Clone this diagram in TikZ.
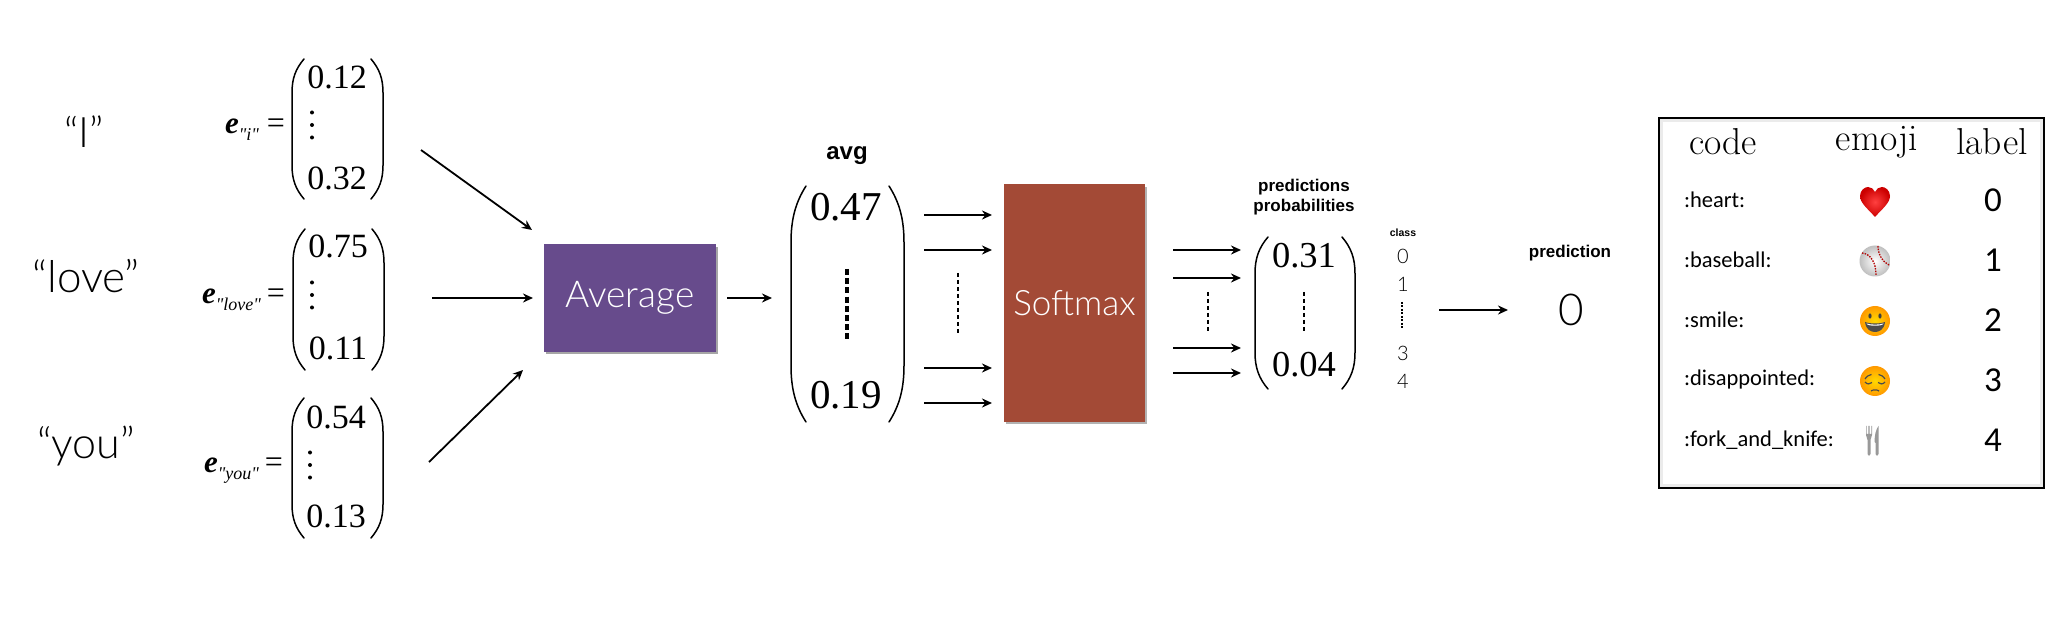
\documentclass[tikz,border=0pt]{standalone}
\usepackage{fontspec}
\setmainfont{Liberation Serif}
\newfontfamily\subf{Liberation Serif}
\newfontfamily\lightf{Lato}[UprightFont=* Light]
\newfontfamily\boldf{Liberation Sans}[UprightFont=* Bold]
\newfontfamily\carl{Carlito}
\newfontfamily\lmr{Latin Modern Roman}
\usetikzlibrary{arrows.meta,calc}
\definecolor{avgcol}{HTML}{674B8C}
\definecolor{softcol}{HTML}{A34A36}
\tikzset{
 x=1pt,y=-1pt,
 every node/.style={inner sep=0pt,outer sep=0pt},
 light/.style={font=\lightf\fontsize{#1}{#1}\selectfont},
 boldlab/.style={font=\boldf\fontsize{#1}{#1}\selectfont,align=center},
 num/.style={font=\fontsize{#1}{#1}\selectfont},
 codetxt/.style={font=\carl\fontsize{22.5}{23}\selectfont,anchor=west},
 lblnum/.style={font=\carl\fontsize{35}{35}\selectfont},
 headtxt/.style={font=\lmr\fontsize{37.5}{37.5}\selectfont},
 arr/.style={-{Stealth[length=10pt,width=9pt]},line width=1.8pt,black},
 paren/.style={line width=1.5pt,black,line cap=round},
}
\newcommand{\parenpair}[5]{%
 \pgfmathsetmacro{\pH}{#4-#3}%
 \draw[paren] (#1+#5,#3) .. controls (#1+0.3*#5,#3+0.07*\pH) and (#1,#3+0.14*\pH) .. (#1,#3+0.24*\pH) -- (#1,#4-0.24*\pH) .. controls (#1,#4-0.14*\pH) and (#1+0.3*#5,#4-0.07*\pH) .. (#1+#5,#4);
 \draw[paren] (#2-#5,#3) .. controls (#2-0.3*#5,#3+0.07*\pH) and (#2,#3+0.14*\pH) .. (#2,#3+0.24*\pH) -- (#2,#4-0.24*\pH) .. controls (#2,#4-0.14*\pH) and (#2-0.3*#5,#4-0.07*\pH) .. (#2-#5,#4);
}
\newcommand{\threedots}[2]{\foreach \dy in {-12.5,0,12.5}{\fill (#1,#2+\dy) circle (2pt);}}
\newcommand{\emb}[2]{{\fontsize{31}{31}\selectfont\bfseries\itshape e}\raisebox{-7pt}{\subf\fontsize{18}{18}\selectfont\itshape #1}\hspace{#2}{\fontsize{32}{32}\selectfont =}}
\begin{document}
\begin{tikzpicture}
\useasboundingbox (0,0) rectangle (2062,617);
\fill[white] (0,0) rectangle (2062,617);
% words
\node[light=42] (w1) at (84,132) {“I”};
\node[light=44] (w2) at (86,276) {“love”};
\node[light=43] (w3) at (86,446) {“you”};
% embeddings
\node[anchor=east] (e1) at (285,130) {\emb{"i"}{8pt}};
\node[anchor=east] (e2) at (285,300) {\emb{"love"}{6pt}};
\node[anchor=east] (e3) at (283,471) {\emb{"you"}{6pt}};
% matrices
\parenpair{292}{383}{59}{199}{12}
\node[num=34] (m1a) at (337,77) {0.12};
\node[num=34] (m1b) at (337,178) {0.32};
\threedots{312}{125}
\parenpair{293}{384}{229}{370}{12}
\node[num=34] (m2a) at (338,246) {0.75};
\node[num=34] (m2b) at (338,348) {0.11};
\threedots{312}{295}
\parenpair{292}{383}{398}{538}{12}
\node[num=34] (m3a) at (336,417) {0.54};
\node[num=34] (m3b) at (336,516) {0.13};
\threedots{310}{465}
% average
\fill[black!35] (546,247) rectangle (718,354);
\node[fill=avgcol,minimum width=172pt,minimum height=108pt,text=white,light=37] (avg) at (630,298) {Average};
\coordinate (a1s) at (421,150); \coordinate (a1e) at (532,230);
\coordinate (a2s) at (432,298); \coordinate (a2e) at (533,298);
\coordinate (a3s) at (429,462); \coordinate (a3e) at (523,370);
\draw[arr] (a1s) -- (a1e);
\draw[arr] (a2s) -- (a2e);
\draw[arr] (a3s) -- (a3e);
\coordinate (a4s) at (727,298); \coordinate (a4e) at (772,298);
\draw[arr] (a4s) -- (a4e);
% avg vector
\node[boldlab=24] (avglab) at (847,156) {avg};
\parenpair{791}{904}{186}{422}{15}
\node[num=41] (v1) at (846,207) {0.47};
\node[num=41] (v2) at (846,395) {0.19};
\coordinate (vd1) at (847,269); \coordinate (vd2) at (847,339);
\draw[line width=4pt,dash pattern=on 6pt off 3.2pt] (vd1) -- (vd2);
% softmax in
\foreach \i/\yy in {1/215,2/250,3/368,4/403}{
 \coordinate (si\i) at (924,\yy); \coordinate (se\i) at (992,\yy);
 \draw[arr] (si\i) -- (se\i);
}
\coordinate (d1a) at (958,273); \coordinate (d1b) at (958,333);
\draw[line width=2pt,dash pattern=on 4pt off 3pt] (d1a) -- (d1b);
% softmax
\fill[black!30] (1006,187) rectangle (1147,424);
\node[fill=softcol,minimum width=141pt,minimum height=238pt,text=white,light=35] (soft) at (1074.5,303) {Softmax};
% softmax out
\foreach \i/\yy in {1/250,2/278,3/348,4/373}{
 \coordinate (so\i) at (1173,\yy); \coordinate (sp\i) at (1241,\yy);
 \draw[arr] (so\i) -- (sp\i);
}
\coordinate (d2a) at (1208,292); \coordinate (d2b) at (1208,332);
\draw[line width=2pt,dash pattern=on 4pt off 3pt] (d2a) -- (d2b);
% probabilities
\node[boldlab=17] (pp) at (1304,197) {predictions\\[3pt]probabilities};
\parenpair{1255}{1355}{237}{389}{13}
\node[num=36.5] (p1) at (1304,256) {0.31};
\node[num=36.5] (p2) at (1304,365) {0.04};
\coordinate (d3a) at (1304,292); \coordinate (d3b) at (1304,333);
\draw[line width=2.4pt,dash pattern=on 4pt off 3pt] (d3a) -- (d3b);
% class
\node[boldlab=10.5] (cl) at (1403,233) {class};
\node[light=20] (c0) at (1403,256) {0};
\node[light=20] (c1) at (1403,284) {1};
\node[light=20] (c3) at (1403,353) {3};
\node[light=20] (c4) at (1403,381) {4};
\coordinate (d4a) at (1402,302); \coordinate (d4b) at (1402,330);
\draw[line width=1.4pt,dash pattern=on 2pt off 1.5pt] (d4a) -- (d4b);
\coordinate (p3s) at (1439,310); \coordinate (p3e) at (1508,310);
\draw[arr] (p3s) -- (p3e);
\node[boldlab=17] (predlab) at (1570,253) {prediction};
\node[light=44] (pred) at (1571,310) {0};
% table
\draw[black!8,line width=3pt] (1661.5,120.5) rectangle (2041.5,485.5);
\draw[black,line width=2.4pt] (1659,118) rectangle (2044,488);
\node[headtxt] (h1) at (1723,142) {code};
\node[headtxt] (h2) at (1877,142) {emoji};
\node[headtxt] (h3) at (1992,142) {label};
\node[codetxt] (r1) at (1684,200) {:heart:};
\node[codetxt] (r2) at (1684,260) {:baseball:};
\node[codetxt] (r3) at (1684,320) {:smile:};
\node[codetxt] (r4) at (1684,380) {:disappointed:};
\node[codetxt] (r5) at (1684,440) {:fork\_and\_knife:};
\node[lblnum] (l0) at (1993,200) {0};
\node[lblnum] (l1) at (1993,260) {1};
\node[lblnum] (l2) at (1993,320) {2};
\node[lblnum] (l3) at (1993,380) {3};
\node[lblnum] (l4) at (1993,440) {4};
% heart
\begin{scope}[shift={(1875,202)}]
\path[shading=radial,inner color=red!75!white,outer color=red!80!black]
 (0,15) .. controls (-7,7) and (-15,1) .. (-15,-6) .. controls (-15,-12) and (-10,-15) .. (-7,-15)
 .. controls (-4,-15) and (-1,-13) .. (0,-10) .. controls (1,-13) and (4,-15) .. (7,-15)
 .. controls (10,-15) and (15,-12) .. (15,-6) .. controls (15,1) and (7,7) .. (0,15) -- cycle;
\end{scope}
% baseball
\begin{scope}[shift={(1875,261)}]
\shade[inner color=white,outer color=black!25] (0,0) circle (15.5);
\draw[red!70!black,line width=1.3pt,dash pattern=on 1.5pt off 1.2pt] (-13,-8) .. controls (-4,-7) and (1,2) .. (1,14);
\draw[red!70!black,line width=1.3pt,dash pattern=on 1.5pt off 1.2pt] (3,-15) .. controls (3,-6) and (8,1) .. (14,4);
\end{scope}
% smile
\begin{scope}[shift={(1875,321)}]
\shade[inner color=yellow!70!orange,outer color=orange!80!yellow] (0,0) circle (15);
\fill[black!75] (-5,-5) ellipse (1.6 and 2.6);
\fill[black!75] (5,-5) ellipse (1.6 and 2.6);
\fill[black!70] (-10,1) .. controls (-5,3) and (5,3) .. (10,1) .. controls (9,9) and (4,11) .. (0,11) .. controls (-4,11) and (-9,9) .. (-10,1) -- cycle;
\fill[white] (-8.5,2.5) .. controls (-4,4) and (4,4) .. (8.5,2.5) .. controls (8,5.5) and (-8,5.5) .. (-8.5,2.5) -- cycle;
\end{scope}
% disappointed
\begin{scope}[shift={(1875,381)}]
\shade[inner color=yellow!70!orange,outer color=orange!80!yellow] (0,0) circle (15);
\draw[black!70,line width=1.2pt] (-10,-2) .. controls (-8,-5) and (-6,-6) .. (-3.5,-6.5);
\draw[black!70,line width=1.2pt] (10,-2) .. controls (8,-5) and (6,-6) .. (3.5,-6.5);
\draw[black!70,line width=1.2pt] (-10,1) .. controls (-8,3.5) and (-5,3.5) .. (-3,1.5);
\draw[black!70,line width=1.2pt] (10,1) .. controls (8,3.5) and (5,3.5) .. (3,1.5);
\draw[black!70,line width=1.2pt] (-4,10) .. controls (-2,8.5) and (2,8.5) .. (4,10);
\end{scope}
% fork and knife
\begin{scope}[shift={(1871,441)}]
\fill[black!40] (-5,-15) -- (-5,-6) .. controls (-5,-3) and (-3.5,-3) .. (-3.5,-1) -- (-3.5,13) .. controls (-3.5,15.5) and (-0.5,15.5) .. (-0.5,13) -- (-0.5,-1) .. controls (-0.5,-3) and (1,-3) .. (1,-6) -- (1,-15) -- (0.3,-15) -- (0.3,-7) -- (-1.3,-7) -- (-1.3,-15) -- (-2.7,-15) -- (-2.7,-7) -- (-4.3,-7) -- (-4.3,-15) -- cycle;
\fill[black!40] (4.5,13) .. controls (4.5,15.5) and (7.5,15.5) .. (7.5,13) -- (7.5,-15) .. controls (5,-12) and (3.5,-6) .. (3.5,1) -- (4.5,2) -- cycle;
\end{scope}
\end{tikzpicture}
\end{document}
